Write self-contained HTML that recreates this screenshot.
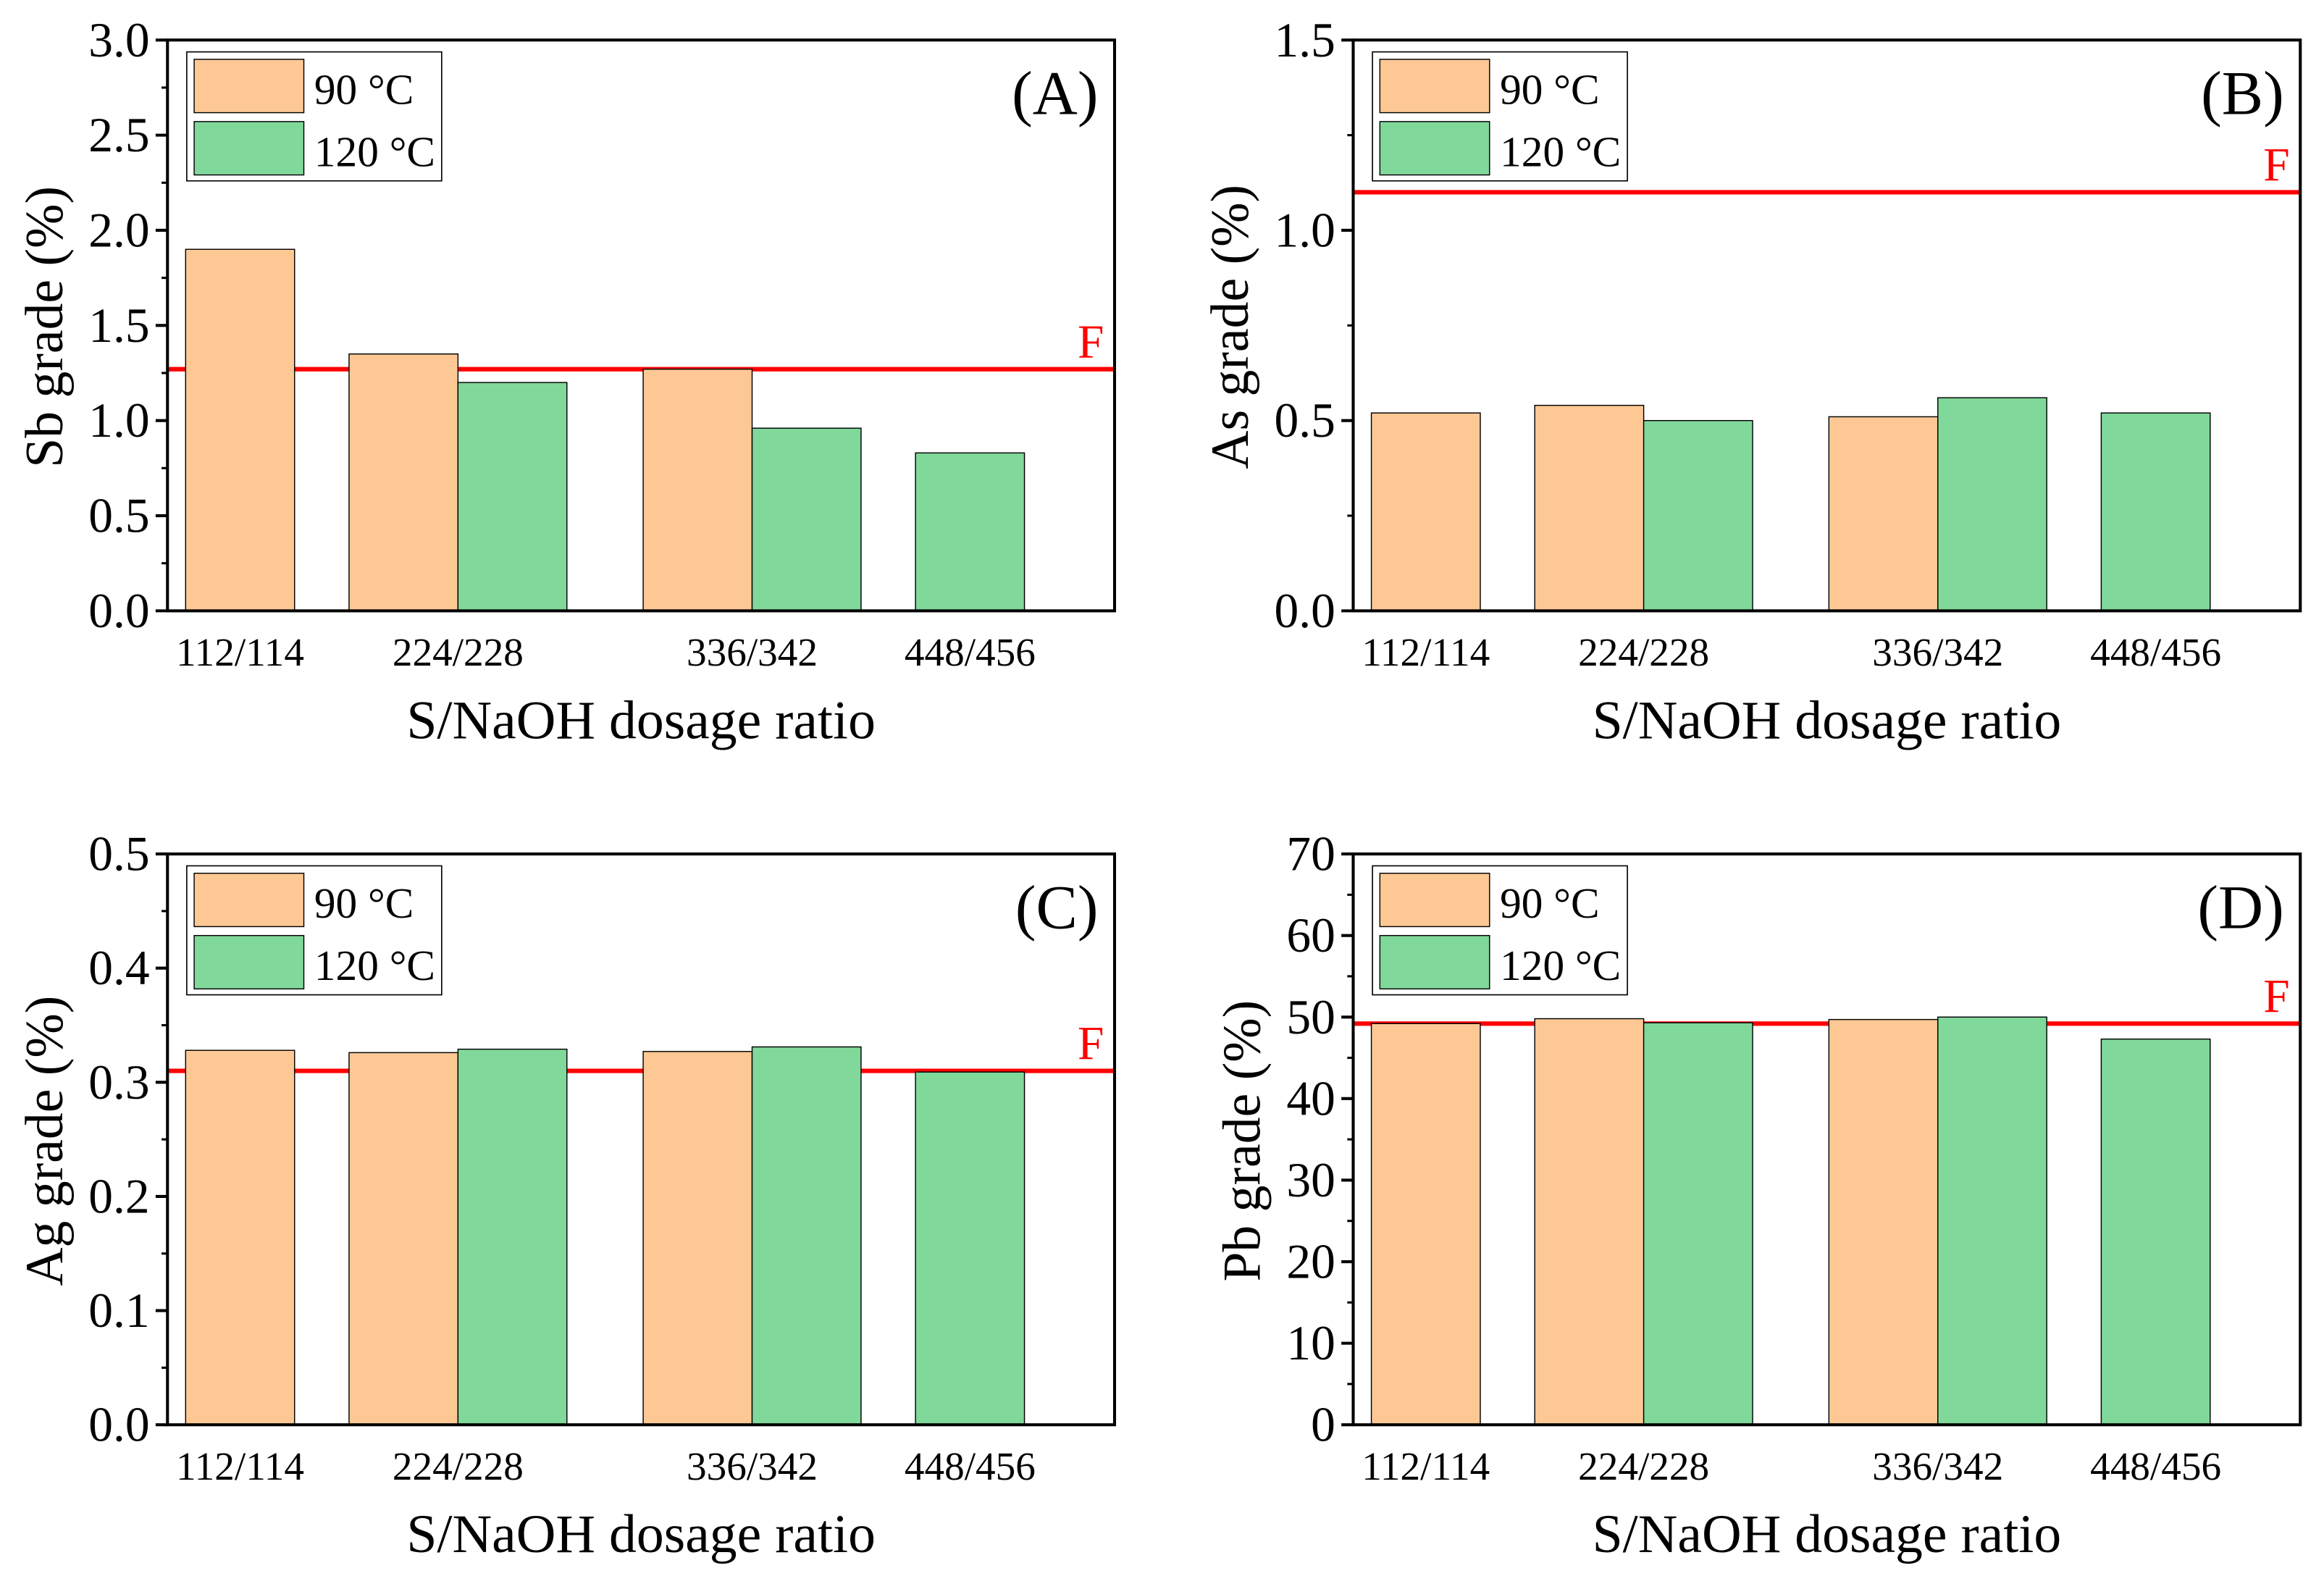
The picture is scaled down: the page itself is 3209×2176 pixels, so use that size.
<!DOCTYPE html>
<html><head><meta charset="utf-8"><style>
html,body{margin:0;padding:0;background:#fff;}
svg{display:block;}
text{font-family:"Liberation Serif",serif;fill:#000;}
</style></head><body>
<svg id="fig" width="3209" height="2176" viewBox="0 0 1568 1063" preserveAspectRatio="none" xmlns="http://www.w3.org/2000/svg"></svg>
<script>
const categories = ["112/114","224/228","336/342","448/456"];
const catPositions = [1, 2, 3.35, 4.35];
const sbOrange = [1.90, 1.35, 1.27, null];
const sbGreen = [null, 1.20, 0.96, 0.83];
const asOrange = [0.52, 0.54, 0.51, null];
const asGreen = [null, 0.50, 0.56, 0.52];
const agOrange = [0.328, 0.326, 0.327, null];
const agGreen = [null, 0.329, 0.331, 0.309];
const pbOrange = [49.2, 49.8, 49.7, null];
const pbGreen = [null, 49.3, 50.0, 47.3];
const fValues = [1.27, 1.1, 0.31, 49.2];
const sbTicks = ["0.0","0.5","1.0","1.5","2.0","2.5","3.0"];
const asTicks = ["0.0","0.5","1.0","1.5"];
const agTicks = ["0.0","0.1","0.2","0.3","0.4","0.5"];
const pbTicks = ["0","10","20","30","40","50","60","70"];

const NS="http://www.w3.org/2000/svg";
const svg=document.getElementById('fig');
function mk(tag,attrs,parent){const e=document.createElementNS(NS,tag);for(const k in attrs)e.setAttribute(k,attrs[k]);(parent||svg).appendChild(e);return e;}

const panels=[
 {id:'a',letter:'(A)',title:'Sb grade (%)',x0:113,y0:27,ticks:sbTicks,max:3.0,orange:sbOrange,green:sbGreen,f:fValues[0],tx:30},
 {id:'b',letter:'(B)',title:'As grade (%)',x0:913,y0:27,ticks:asTicks,max:1.5,orange:asOrange,green:asGreen,f:fValues[1],tx:830},
 {id:'c',letter:'(C)',title:'Ag grade (%)',x0:113,y0:576,ticks:agTicks,max:0.5,orange:agOrange,green:agGreen,f:fValues[2],tx:30},
 {id:'d',letter:'(D)',title:'Pb grade (%)',x0:913,y0:576,ticks:pbTicks,max:70,orange:pbOrange,green:pbGreen,f:fValues[3],tx:838}
];
const W=639,H=385,unit=147,bw=73.5;
panels.forEach(p=>{
 const g=mk('g',{});
 
 
 const ys=v=>p.y0+H-v/p.max*H;
 const xs=c=>p.x0+49+(c-1)*unit;
 const fl=mk('line',{x1:p.x0,x2:p.x0+W,y1:ys(p.f),y2:ys(p.f),stroke:'#ff0000','stroke-width':3},g);
 
 
 categories.forEach((cat,i)=>{
  const cx=xs(catPositions[i]);
  const o=p.orange[i], gr=p.green[i];
  const both=o!=null&&gr!=null;
  if(o!=null){
   const x=both?cx-bw:cx-bw/2;
   const r=mk('rect',{x:x,y:ys(o),width:bw,height:ys(0)-ys(o),fill:'#fdc894',stroke:'#000','stroke-width':0.7},g);
   
   
  }
  if(gr!=null){
   const x=both?cx:cx-bw/2;
   const r=mk('rect',{x:x,y:ys(gr),width:bw,height:ys(0)-ys(gr),fill:'#80d89a',stroke:'#000','stroke-width':0.7},g);
   
   
  }
  const t=mk('text',{x:cx,y:p.y0+H+37,'font-size':27,'text-anchor':'middle'},g);
  t.textContent=cat;
  
  
 });
 const fr=mk('rect',{x:p.x0,y:p.y0,width:W,height:H,fill:'none',stroke:'#000','stroke-width':2},g);
 
 
 const n=p.ticks.length-1;
 p.ticks.forEach((lab,i)=>{
  const y=p.y0+H-i*H/n;
  mk('line',{x1:p.x0-8,x2:p.x0,y1:y,y2:y,stroke:'#000','stroke-width':2},g);
  if(i<n){const ym=y-H/n/2;mk('line',{x1:p.x0-4,x2:p.x0,y1:ym,y2:ym,stroke:'#000','stroke-width':1.5},g);}
  const t=mk('text',{x:p.x0-12,y:y+11,'font-size':33,'text-anchor':'end'},g);
  t.textContent=lab;
  
  
 });
 const yt=mk('text',{x:0,y:0,'font-size':36,'text-anchor':'middle',transform:`translate(${p.tx+12},${p.y0+H/2+1}) rotate(-90)`},g);
 yt.textContent=p.title;
 
 
 const xt=mk('text',{x:p.x0+W/2,y:p.y0+H+86,'font-size':37,'text-anchor':'middle'},g);
 xt.textContent='S/NaOH dosage ratio';
 
 
 const pl=mk('text',{x:p.x0+W-11,y:p.y0+50,'font-size':42,'text-anchor':'end'},g);
 pl.textContent=p.letter;
 
 
 const ft=mk('text',{x:p.x0+W-16,y:ys(p.f)-8,'font-size':32,'text-anchor':'middle',style:'fill:#ff0000'},g);
 ft.textContent='F';
 
 
 const lg=mk('g',{},g);
 
 
 mk('rect',{x:p.x0+13,y:p.y0+8,width:172,height:87,fill:'#fff',stroke:'#000','stroke-width':0.8},lg);
 mk('rect',{x:p.x0+18,y:p.y0+13,width:74,height:36,fill:'#fdc894',stroke:'#000','stroke-width':0.7},lg);
 mk('rect',{x:p.x0+18,y:p.y0+55,width:74,height:36,fill:'#80d89a',stroke:'#000','stroke-width':0.7},lg);
 const l1=mk('text',{x:p.x0+99,y:p.y0+43,'font-size':29},lg);
 l1.textContent='90 °C';
 
 
 const l2=mk('text',{x:p.x0+99,y:p.y0+85,'font-size':29},lg);
 l2.textContent='120 °C';
 
 
});
</script>
</body></html>
